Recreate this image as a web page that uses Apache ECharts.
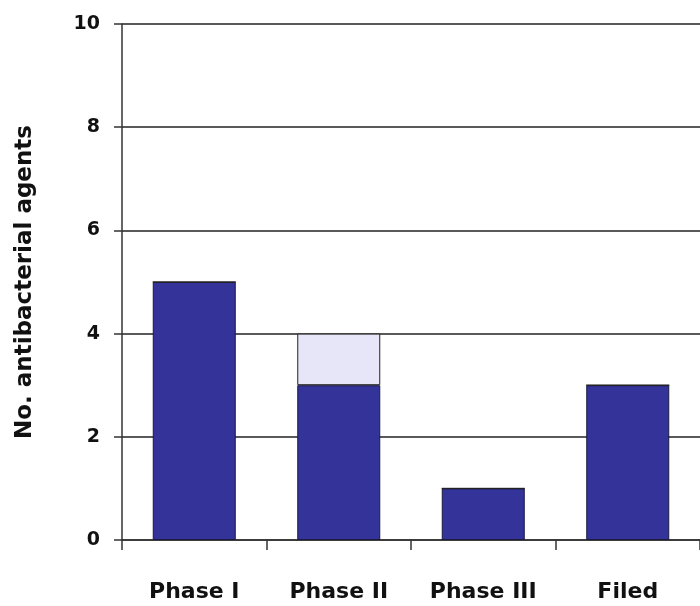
<!DOCTYPE html>
<html>
<head>
<meta charset="utf-8">
<script src="https://cdn.jsdelivr.net/npm/echarts@6/dist/echarts.min.js"></script>
<style>html,body{margin:0;padding:0;background:#fff;}#c{width:700px;height:606px;}</style>
</head>
<body>
<div id="c"></div>
<script>
const categories = ['Phase I', 'Phase II', 'Phase III', 'Filed'];
const mainValues = [5, 3, 1, 3];
const extraValues = [0, 1, 0, 0];
const yTitle = 'No. antibacterial agents';

const chart = echarts.init(document.getElementById('c'), null, {renderer: 'canvas'});
const font = '"DejaVu Sans", sans-serif';
chart.setOption({
  animation: false,
  backgroundColor: '#ffffff',
  grid: {left: 122, top: 24, width: 581, bottom: 66, containLabel: false},
  xAxis: {
    type: 'category',
    data: categories,
    axisLine: {lineStyle: {color: '#333', width: 1.5}},
    axisTick: {show: true, length: 10, lineStyle: {color: '#333', width: 1.5}},
    axisLabel: {margin: 41, color: '#111', fontFamily: font, fontWeight: 'bold', fontSize: 22}
  },
  yAxis: {
    type: 'value',
    min: 0, max: 10, interval: 2,
    name: yTitle,
    nameLocation: 'middle',
    nameGap: 85,
    nameRotate: 90,
    nameTextStyle: {color: '#111', fontFamily: font, fontWeight: 'bold', fontSize: 23},
    axisLine: {show: true, lineStyle: {color: '#333', width: 1.5}},
    axisTick: {show: true, length: 8, lineStyle: {color: '#333', width: 1.5}},
    axisLabel: {margin: 22, color: '#111', fontFamily: font, fontWeight: 'bold', fontSize: 19},
    splitLine: {show: true, lineStyle: {color: '#222', width: 1.5}}
  },
  series: [
    {
      type: 'bar', stack: 's', data: mainValues, barWidth: 83,
      itemStyle: {color: '#333399', borderColor: '#1a1a40', borderWidth: 1}
    },
    {
      type: 'bar', stack: 's', data: extraValues, barWidth: 83,
      itemStyle: {color: '#e6e6f8', borderColor: '#222', borderWidth: 1}
    }
  ]
});
</script>
</body>
</html>
